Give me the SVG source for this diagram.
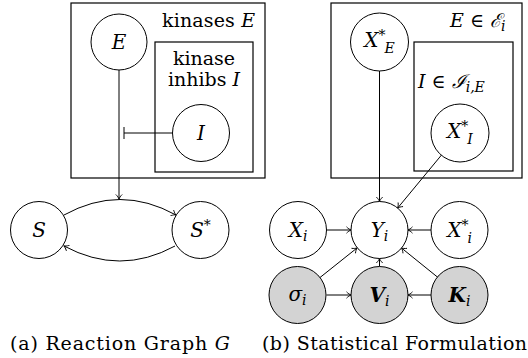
<svg xmlns="http://www.w3.org/2000/svg" width="528" height="358" viewBox="0 0 528 358">
  <defs>
    <marker id="arr" viewBox="-6 -4 7 8" refX="0" refY="0" markerWidth="7" markerHeight="8" markerUnits="userSpaceOnUse" orient="auto">
      <path d="M-4.5,-3.2 C-3,-1.5 -1,-0.4 0,0 C-1,0.4 -3,1.5 -4.5,3.2" fill="none" stroke="#000" stroke-width="0.9"/>
    </marker>
  </defs>
  <style>
    .n{fill:#fff;stroke:#000;stroke-width:1}
    .g{fill:#d3d3d3;stroke:#000;stroke-width:1}
    .box{fill:none;stroke:#000;stroke-width:1.2}
    .e{fill:none;stroke:#000;stroke-width:1;marker-end:url(#arr)}
    .l{fill:none;stroke:#000;stroke-width:1}
    text{font-family:"DejaVu Serif","Liberation Serif",serif;font-size:19px;fill:#000}
    .c{text-anchor:middle}
    .lab{font-size:20px}
    .i{font-style:italic}
    .b{font-weight:bold;font-style:italic}
    .s{font-size:14px}
    .cap{font-size:19px}
  </style>

  <!-- (a) reaction graph: plates -->
  <g id="plate-kinases">
    <rect class="box" x="71" y="3" width="194" height="175"/>
    <text x="162" y="27" textLength="93">kinases <tspan class="i">E</tspan></text>
  </g>
  <g id="plate-inhibs">
    <rect class="box" x="155" y="42" width="98" height="130"/>
    <text class="c" x="204" y="65">kinase</text>
    <text class="c" x="204" y="86">inhibs <tspan class="i">I</tspan></text>
  </g>

  <!-- (b) statistical formulation: plates -->
  <g id="plate-E">
    <rect class="box" x="331" y="3" width="191" height="175"/>
    <text x="450" y="27"><tspan class="i">E</tspan> ∈ <tspan class="i">ℰ</tspan><tspan class="s i" dy="4">i</tspan></text>
  </g>
  <g id="plate-I">
    <rect class="box" x="414" y="42" width="99" height="129"/>
    <text x="418" y="88"><tspan class="i">I</tspan> ∈ <tspan class="i">ℐ</tspan><tspan class="s i" dy="4">i,E</tspan></text>
  </g>

  <!-- connectors -->
  <g id="connectors">
    <path class="e" d="M119,70 L119,199"/>
    <path class="l" d="M173,133 L124,133 M124,127 L124,139"/>
    <path class="e" d="M64,215 Q120,184 176,215"/>
    <path class="e" d="M175,246 Q120,276 64,246"/>

    <path class="e" d="M379.5,71 L379.5,201.5"/>
    <path class="e" d="M441.5,155 L397.7,208"/>
    <path class="e" d="M326.5,230 L351,230"/>
    <path class="e" d="M431,230 L408,230"/>
    <path class="e" d="M320,277.5 L357,248"/>
    <path class="e" d="M438,277.5 L401.5,248"/>
    <path class="e" d="M379.5,266.5 L379.5,258.5"/>
    <path class="e" d="M326.5,295 L351,295"/>
    <path class="e" d="M431,295 L408,295"/>
  </g>

  <!-- nodes -->
  <g id="node-E">
    <circle class="n" cx="119" cy="42" r="28"/>
    <text class="c i lab" x="119" y="49">E</text>
  </g>
  <g id="node-I">
    <circle class="n" cx="201" cy="133" r="28.5"/>
    <text class="c i lab" x="201" y="140">I</text>
  </g>
  <g id="node-S">
    <circle class="n" cx="39" cy="230" r="28.5"/>
    <text class="c i lab" x="39" y="237">S</text>
  </g>
  <g id="node-Sstar">
    <circle class="n" cx="200.5" cy="230" r="28.5"/>
    <text class="c lab" x="200.5" y="237"><tspan class="i">S</tspan><tspan class="s" dy="-7">*</tspan></text>
  </g>

  <g id="node-XE">
    <circle class="n" cx="379.5" cy="42" r="29"/>
    <text class="c lab" x="379.5" y="47"><tspan class="i">X</tspan><tspan class="s" dy="-7">*</tspan><tspan class="s i" dx="-1" dy="13">E</tspan></text>
  </g>
  <g id="node-XI">
    <circle class="n" cx="460" cy="133" r="29"/>
    <text class="c lab" x="460" y="138"><tspan class="i">X</tspan><tspan class="s" dy="-7">*</tspan><tspan class="s i" dx="-1" dy="13">I</tspan></text>
  </g>
  <g id="node-Xi">
    <circle class="n" cx="298" cy="230" r="28.5"/>
    <text class="c lab" x="298" y="237"><tspan class="i">X</tspan><tspan class="s i" dy="4">i</tspan></text>
  </g>
  <g id="node-Yi">
    <circle class="n" cx="379.5" cy="230" r="28.5"/>
    <text class="c lab" x="379.5" y="237"><tspan class="i">Y</tspan><tspan class="s i" dy="4">i</tspan></text>
  </g>
  <g id="node-Xistar">
    <circle class="n" cx="459.5" cy="230" r="28.5"/>
    <text class="c lab" x="459.5" y="237"><tspan class="i">X</tspan><tspan class="s" dy="-7">*</tspan><tspan class="s i" dx="-1" dy="13">i</tspan></text>
  </g>
  <g id="node-sigma">
    <circle class="g" cx="297.5" cy="295" r="28.5"/>
    <text class="c lab" x="297.5" y="301"><tspan class="i">σ</tspan><tspan class="s i" dy="4">i</tspan></text>
  </g>
  <g id="node-V">
    <circle class="g" cx="379.5" cy="295" r="28.5"/>
    <text class="c lab" x="379.5" y="302"><tspan class="b">V</tspan><tspan class="s i" dy="4">i</tspan></text>
  </g>
  <g id="node-K">
    <circle class="g" cx="459.5" cy="295" r="28.5"/>
    <text class="c lab" x="459.5" y="302"><tspan class="b">K</tspan><tspan class="s i" dy="4">i</tspan></text>
  </g>

  <!-- captions -->
  <text class="cap" x="10" y="350" textLength="220">(a) Reaction Graph <tspan class="i">G</tspan></text>
  <text class="cap" x="262" y="350" textLength="265">(b) Statistical Formulation</text>
</svg>
